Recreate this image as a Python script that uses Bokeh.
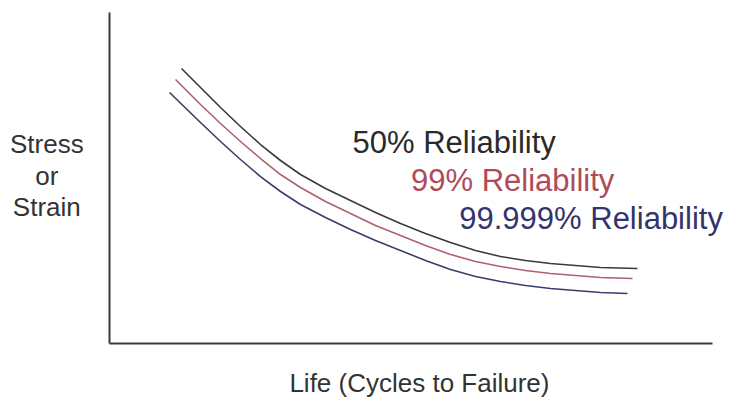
from bokeh.plotting import figure
from bokeh.models import Label, Range1d
from bokeh.embed import file_html
from bokeh.resources import INLINE

# Life (normalised, 0-100) and Stress/Strain (normalised, 0-100)
life_50 = [11.94, 15.09, 18.41, 21.72, 25.04, 28.36, 31.67, 35.82, 39.97, 44.11,
           48.26, 52.40, 56.55, 60.70, 64.84, 68.99, 73.13, 77.28, 81.43, 87.56]
stress_50 = [83.08, 77.34, 71.30, 65.56, 60.12, 55.29, 51.06, 46.83, 43.20, 39.58,
             36.25, 33.23, 30.51, 28.10, 26.28, 25.08, 24.17, 23.56, 22.96, 22.66]

life_99 = [10.95, 15.09, 18.41, 21.72, 25.04, 28.36, 31.67, 35.82, 39.97, 44.11,
           48.26, 52.40, 56.55, 60.70, 64.84, 68.99, 73.13, 77.28, 81.43, 86.73]
stress_99 = [79.76, 72.21, 66.47, 61.03, 55.89, 51.06, 47.13, 42.90, 39.27, 35.65,
             32.63, 29.61, 26.89, 24.77, 23.26, 22.05, 21.15, 20.54, 19.94, 19.64]

life_99999 = [9.95, 15.09, 18.41, 21.72, 25.04, 28.36, 31.67, 35.82, 39.97, 44.11,
              48.26, 52.40, 56.55, 60.70, 64.84, 68.99, 73.13, 77.28, 81.43, 85.90]
stress_99999 = [75.83, 66.77, 61.03, 55.59, 50.45, 45.92, 41.99, 38.07, 34.44, 31.12,
                28.10, 25.08, 22.36, 20.24, 18.73, 17.52, 16.62, 16.01, 15.41, 15.11]

series_labels = ["50% Reliability", "99% Reliability", "99.999% Reliability"]
x_title = "Life (Cycles to Failure)"
y_title = ["Stress", "or", "Strain"]

FONT = "Liberation Sans"

p = figure(width=729, height=400, output_backend="svg", toolbar_location=None,
           x_range=Range1d(-18.08, 102.82), y_range=Range1d(-17.22, 103.63),
           min_border_left=0, min_border_right=0, min_border_top=0, min_border_bottom=0)
p.outline_line_color = None
p.grid.visible = False
p.background_fill_color = "white"
p.border_fill_color = "white"

for ax in (p.xaxis[0], p.yaxis[0]):
    ax.fixed_location = 0
    ax.bounds = (0, 100)
    ax.major_tick_line_color = None
    ax.minor_tick_line_color = None
    ax.major_tick_out = 0
    ax.major_tick_in = 0
    ax.minor_tick_out = 0
    ax.minor_tick_in = 0
    ax.major_label_text_font_size = "0px"
    ax.major_label_standoff = 0
    ax.major_label_text_color = None
    ax.axis_line_color = "#3a3a3a"
    ax.axis_line_width = 2

p.line(life_50, stress_50, line_color="#3a3a3a", line_width=1.6)
p.line(life_99, stress_99, line_color="#b06070", line_width=1.6)
p.line(life_99999, stress_99999, line_color="#3c3c6c", line_width=1.6)

label_pos = [(40.3, 60.7), (50.0, 49.2), (58.0, 37.7)]
label_colors = ["#2a2a2a", "#b04a58", "#33336e"]
for txt, (lx, ly), c in zip(series_labels, label_pos, label_colors):
    p.add_layout(Label(x=lx, y=ly, text=txt, text_font=FONT, text_font_size="31px",
                       text_color=c, text_baseline="alphabetic", text_align="left"))

# axis titles
p.add_layout(Label(x=51.4, y=-11.8, text=x_title, text_font=FONT, text_font_size="26px",
                   text_color="#333333", text_align="center", text_baseline="alphabetic"))
for txt, ly in zip(y_title, [60.4, 50.7, 41.1]):
    p.add_layout(Label(x=-10.4, y=ly, text=txt, text_font=FONT, text_font_size="26px",
                       text_color="#333333", text_align="center", text_baseline="alphabetic"))

open("out.html", "w").write(file_html(p, INLINE))
